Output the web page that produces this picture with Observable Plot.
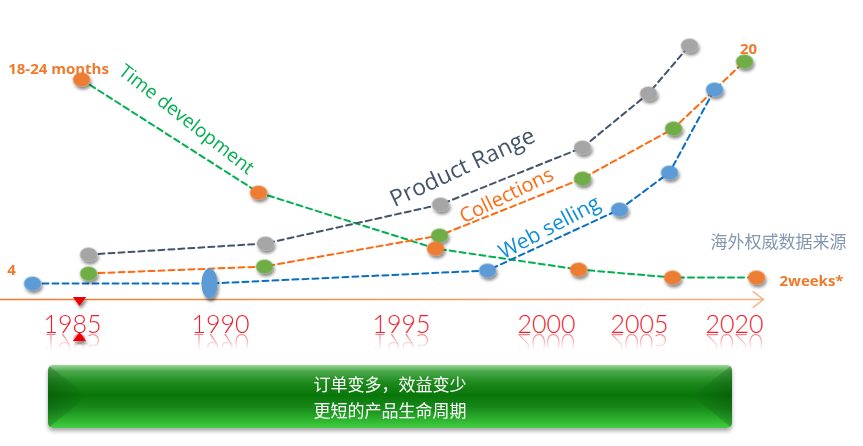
<!DOCTYPE html>
<html><head><meta charset="utf-8">
<script src="https://cdn.jsdelivr.net/npm/d3@7"></script>
<script src="https://cdn.jsdelivr.net/npm/@observablehq/plot@0.6"></script>
<style>
html,body{margin:0;padding:0;background:#fff}
body{width:863px;height:446px;overflow:hidden;font-family:"Noto Sans",sans-serif}
#chart svg{display:block}
#box{position:relative;margin:5px 0 0 48px;width:684px;height:63px;border-radius:5px;
  background:linear-gradient(to bottom,#9ad89a 0%,#4aa84a 10%,#1d8a1d 28%,#0a760a 48%,#17891a 68%,#2fb62f 88%,#45cc45 100%);
  box-shadow:0 3px 4px rgba(0,0,0,0.35);color:#fff;text-align:center;
  font-family:"Noto Sans CJK SC",sans-serif;font-size:17px;line-height:26px;box-sizing:border-box;padding-top:6px;overflow:hidden}
#box .bl,#box .br{position:absolute;top:0;width:40px;height:63px}
#box .bl{left:0;background:linear-gradient(to right,rgba(0,40,0,0.25),rgba(0,40,0,0));clip-path:polygon(0 0,40px 31px,0 63px)}
#box .br{right:0;background:linear-gradient(to left,rgba(0,40,0,0.25),rgba(0,40,0,0));clip-path:polygon(40px 0,0 31px,40px 63px)}
#box .t{position:relative}
#err{position:absolute;left:0;top:0;color:#000;font-size:11px;white-space:pre}
</style></head><body>
<div id="chart"></div>
<div id="box"><div class="bl"></div><div class="br"></div><div class="t">订单变多，效益变少</div><div class="t">更短的产品生命周期</div></div>
<div id="err"></div>
<script>
try {
// ---- data ----
// horizontal position along the timeline: 0 = "1985" label, 100 = "2020" label (the labels are not evenly spaced in time)
const tickPositions = [0, 22.36, 49.70, 71.60, 85.65, 100];
const tickLabels = ["1985", "1990", "1995", "2000", "2005", "2020"];
const axisExtent = [-10.88, 104.38];

const productPos = [2.42, 29.15, 55.59, 77.04, 87.01, 93.20];
const productLevels = [44, 55, 94, 151, 205, 253];
const collectionPos = [2.42, 29.00, 55.44, 77.04, 90.79, 101.51];
const collectionLevels = [25, 32, 63, 120, 170, 237];
const webPos = [-6.04, 20.69, 62.69, 82.63, 90.18, 96.98];
const webLevels = [15, 15, 28, 89, 126, 209];
const webShapes = ["round", "tall", "round", "round", "round", "round"];
const timePos = [1.36, 28.10, 54.83, 76.44, 90.63, 103.32];
const timeLevels = [219, 106, 50, 29, 21, 21];

const seriesNames = ["Time development", "Product Range", "Collections", "Web selling"];
const seriesLabelPos = [17.22, 58.91, 65.56, 72.05];
const seriesLabelLevels = [179, 131, 103, 71];
const seriesLabelAngles = [38, -25, -26, -28];

const noteTexts = ["18-24 months", "4", "20", "2weeks*"];
const notePos = [-2.11, -9.21, 102.11, 111.63];
const noteLevels = [229, 28, 249, 17];

const sourceText = "海外权威数据来源";
const sourcePos = 106.65, sourceLevel = 56;

const markerPos = [1.06, 1.06];
const markerLevels = [-3, -38];
const markerDirs = ["down", "up"];
const yearLabelLevel = -34;

// ---- build tables ----
const toRows = (xs, ys, extra) => xs.map((x, i) => ({x, y: ys[i], s: extra ? extra[i] : null}));
const product = toRows(productPos, productLevels);
const collection = toRows(collectionPos, collectionLevels);
const web = toRows(webPos, webLevels, webShapes);
const time = toRows(timePos, timeLevels);
const seriesLabels = seriesNames.map((t, i) => ({t, x: seriesLabelPos[i], y: seriesLabelLevels[i], a: seriesLabelAngles[i]}));
const notes = noteTexts.map((t, i) => ({t, x: notePos[i], y: noteLevels[i]}));
const markers = markerPos.map((x, i) => ({x, y: markerLevels[i], d: markerDirs[i]}));
const years = tickPositions.map((x, i) => ({x, t: tickLabels[i]}));

const ellipse = (kx, ky) => ({draw(ctx, size) {
  const r = Math.sqrt(size / Math.PI), rx = r * kx, ry = r * ky, k = 0.5523;
  ctx.moveTo(rx, 0);
  ctx.bezierCurveTo(rx, ry * k, rx * k, ry, 0, ry);
  ctx.bezierCurveTo(-rx * k, ry, -rx, ry * k, -rx, 0);
  ctx.bezierCurveTo(-rx, -ry * k, -rx * k, -ry, 0, -ry);
  ctx.bezierCurveTo(rx * k, -ry, rx, -ry * k, rx, 0);
  ctx.closePath();
}});
const tri = (dir) => ({draw(ctx, size) {
  const r = Math.sqrt(size / Math.PI), w = r * 1.1, h = r * 0.75, s = dir === "down" ? 1 : -1;
  ctx.moveTo(-w, -h * s); ctx.lineTo(w, -h * s); ctx.lineTo(0, h * s); ctx.closePath();
}});
const round = ellipse(1.13, 0.92), tall = ellipse(1.0, 1.9);

const dash = "6,4";
const yearFont = "Lato, 'DejaVu Sans', sans-serif";
const labelFont = "'Open Sans', sans-serif";
const plot = Plot.plot({
  width: 863, height: 360, margin: 0,
  x: {domain: [0, 100], range: [72, 734], axis: null},
  y: {domain: [-62, 298], range: [360, 0], axis: null},
  style: {background: "transparent", overflow: "visible"},
  marks: [
    Plot.arrow([axisExtent], {x1: d => d[0], x2: d => d[1], y1: () => -1, y2: () => -1, stroke: "#f08a3c", strokeWidth: 1.5, headLength: 13, headAngle: 75}),
    Plot.line(time, {x: "x", y: "y", stroke: "#00b050", strokeWidth: 2, strokeDasharray: dash}),
    Plot.line(product, {x: "x", y: "y", stroke: "#44546a", strokeWidth: 2, strokeDasharray: dash}),
    Plot.line(collection, {x: "x", y: "y", stroke: "#ff6a10", strokeWidth: 2, strokeDasharray: dash}),
    Plot.line(web, {x: "x", y: "y", stroke: "#0a6fc2", strokeWidth: 2, strokeDasharray: dash}),
    Plot.dot(product, {x: "x", y: "y", r: 7.6, fill: "#a5a5a5", symbol: round}),
    Plot.dot(collection, {x: "x", y: "y", r: 7.6, fill: "#70ad47", symbol: round}),
    Plot.dot(web.filter(d => d.s === "round"), {x: "x", y: "y", r: 7.6, fill: "#5b9bd5", symbol: round}),
    Plot.dot(web.filter(d => d.s === "tall"), {x: "x", y: "y", r: 8, fill: "#5b9bd5", symbol: tall}),
    Plot.dot(time, {x: "x", y: "y", r: 7.6, fill: "#ed7d31", symbol: round}),
    Plot.dot(markers.filter(d => d.d === "down"), {x: "x", y: "y", r: 6, fill: "#e80000", symbol: tri("down")}),
    Plot.dot(markers.filter(d => d.d === "up"), {x: "x", y: "y", r: 6, fill: "#e80000", symbol: tri("up")}),
    Plot.text(years, {x: "x", y: () => yearLabelLevel, text: "t", fill: "#f01c2c", fontSize: 25, fontWeight: 300, fontFamily: yearFont, lineAnchor: "bottom"}),
    Plot.text(years, {x: "x", y: () => yearLabelLevel, text: "t", fill: "#f01c2c", fontSize: 25, fontWeight: 300, fontFamily: yearFont, lineAnchor: "bottom", ariaDescription: "reflection"}),
    Plot.text(seriesLabels.filter(d => d.t === "Time development"), {x: "x", y: "y", text: "t", rotate: "a", fill: "#00b050", fontSize: 19, fontFamily: labelFont}),
    Plot.text(seriesLabels.filter(d => d.t === "Product Range"), {x: "x", y: "y", text: "t", rotate: "a", fill: "#44546a", fontSize: 23, fontFamily: labelFont}),
    Plot.text(seriesLabels.filter(d => d.t === "Collections"), {x: "x", y: "y", text: "t", rotate: "a", fill: "#ff6a10", fontSize: 20, fontFamily: labelFont}),
    Plot.text(seriesLabels.filter(d => d.t === "Web selling"), {x: "x", y: "y", text: "t", rotate: "a", fill: "#0f8fd8", fontSize: 21, fontFamily: labelFont}),
    Plot.text(notes, {x: "x", y: "y", text: "t", fill: "#ef7a2c", fontSize: 15, fontWeight: "bold", fontFamily: labelFont}),
    Plot.text([{t: sourceText, x: sourcePos, y: sourceLevel}], {x: "x", y: "y", text: "t", fill: "#8497b0", fontSize: 17, fontFamily: "'Noto Sans CJK SC', sans-serif"})
  ]
});
document.getElementById("chart").append(plot);

// ---- styling: shadows, axis gradient, reflection ----
const ns = "http://www.w3.org/2000/svg";
const svg = plot;
const defs = document.createElementNS(ns, "defs");
defs.innerHTML = `
<filter id="sh" x="-50%" y="-50%" width="200%" height="200%"><feDropShadow dx="1.5" dy="3" stdDeviation="1.8" flood-color="#000" flood-opacity="0.45"/></filter>
<linearGradient id="axg" gradientUnits="userSpaceOnUse" x1="0" y1="0" x2="770" y2="0"><stop offset="0" stop-color="#ee7a2c"/><stop offset="1" stop-color="#f6b182"/></linearGradient>
<linearGradient id="rg" gradientUnits="userSpaceOnUse" x1="0" y1="331" x2="0" y2="350"><stop offset="0" stop-color="#fff" stop-opacity="0.7"/><stop offset="1" stop-color="#fff" stop-opacity="0"/></linearGradient>
<mask id="rm" maskUnits="userSpaceOnUse" x="0" y="0" width="863" height="446"><rect x="0" y="331" width="863" height="22" fill="url(#rg)"/></mask>`;
svg.insertBefore(defs, svg.firstChild);
svg.querySelectorAll('g[aria-label="dot"]').forEach(g => g.setAttribute("filter", "url(#sh)"));
svg.querySelectorAll('g[aria-label="arrow"] path').forEach(p => p.setAttribute("stroke", "url(#axg)"));
const yb = plot.scale("y").apply(yearLabelLevel) + 1;
const rgrp = svg.querySelector('g[aria-description="reflection"]');
if (rgrp) {
  const wrap = document.createElementNS(ns, "g");
  wrap.setAttribute("mask", "url(#rm)");
  rgrp.parentNode.insertBefore(wrap, rgrp);
  wrap.appendChild(rgrp);
  rgrp.setAttribute("transform", `translate(0,${2 * yb}) scale(1,-1)`);
}
} catch (e) { document.getElementById("err").textContent = String(e && e.stack || e); }
</script>
</body></html>
